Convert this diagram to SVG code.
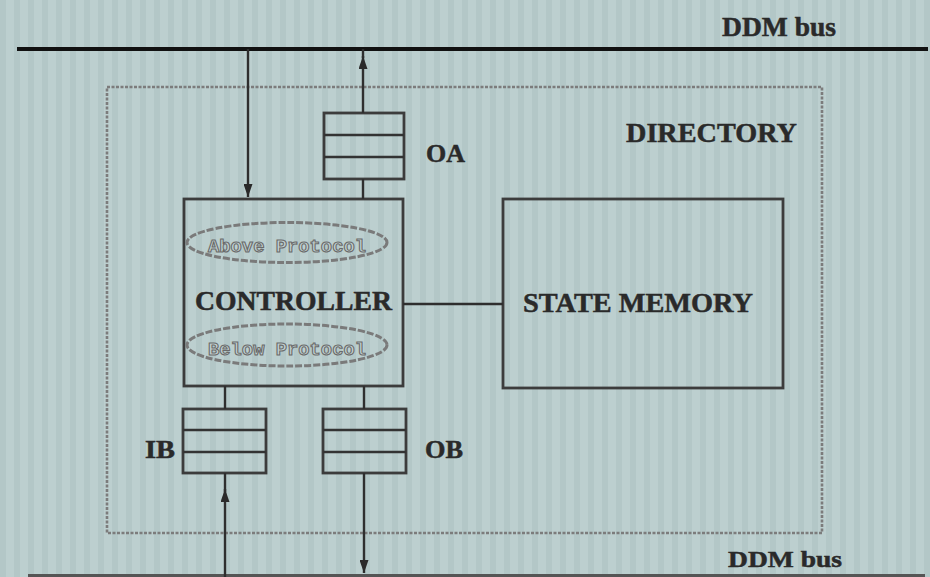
<svg xmlns="http://www.w3.org/2000/svg" width="930" height="577" viewBox="0 0 930 577">
  <defs>
    <pattern id="stripes" width="14" height="14" patternUnits="userSpaceOnUse">
      <rect width="14" height="14" fill="#bccfcf"/>
      <rect x="0" width="6" height="14" fill="#b3c7c7"/>
    </pattern>
    <marker id="arrowBig" viewBox="0 0 10 10" refX="10" refY="5" markerWidth="13" markerHeight="9" markerUnits="userSpaceOnUse" orient="auto" preserveAspectRatio="none">
      <path d="M0,0 L10,5 L0,10 Z" fill="#2a2a2a"/>
    </marker>
  </defs>
  <style>
    .box { fill: none; stroke: #3c3c3c; stroke-width: 2.8; }
    .slot { stroke: #333; stroke-width: 2.6; }
    .lbl { font-family: "Liberation Serif", "Times New Roman", serif; font-weight: bold; fill: #2a2a2a; stroke: #2a2a2a; stroke-width: 0.5; }
    .conn { fill: none; stroke: #2e2e2e; stroke-width: 2.4; }
    .proto { fill: none; stroke: #7a7a7a; stroke-width: 3; stroke-dasharray: 7 2; }
    .ptxt { font-family: "Liberation Mono", "Courier New", monospace; font-weight: bold; fill: #c2d2d2; stroke: #6a6a6a; stroke-width: 1.1; }
  </style>

  <rect width="930" height="577" fill="url(#stripes)"/>

  <!-- buses -->
  <g id="bus-top">
    <line x1="17" y1="49" x2="928" y2="49" stroke="#111" stroke-width="4"/>
    <text class="lbl" x="722" y="36" font-size="27" textLength="114" lengthAdjust="spacingAndGlyphs">DDM bus</text>
  </g>
  <g id="bus-bottom">
    <line x1="28" y1="575.5" x2="925" y2="575.5" stroke="#555" stroke-width="3"/>
    <text class="lbl" x="728" y="567" font-size="24" textLength="114" lengthAdjust="spacingAndGlyphs">DDM bus</text>
  </g>

  <!-- directory -->
  <g id="directory">
    <rect x="107" y="87" width="715" height="446" fill="none" stroke="#7c7c7c" stroke-width="2.6" stroke-dasharray="3 1.5"/>
    <text class="lbl" x="626" y="142" font-size="28" textLength="171" lengthAdjust="spacingAndGlyphs">DIRECTORY</text>
  </g>

  <!-- OA -->
  <g id="oa">
    <rect class="box" x="324" y="113" width="80" height="66"/>
    <line class="slot" x1="324" y1="135" x2="404" y2="135"/>
    <line class="slot" x1="324" y1="157" x2="404" y2="157"/>
    <text class="lbl" x="426" y="162" font-size="25" textLength="39" lengthAdjust="spacingAndGlyphs">OA</text>
  </g>

  <!-- controller -->
  <g id="controller">
    <rect class="box" x="184" y="199" width="219" height="187"/>
    <ellipse class="proto" cx="287" cy="242.5" rx="100" ry="20"/>
    <text class="ptxt" x="287" y="252" font-size="19" text-anchor="middle" textLength="158" lengthAdjust="spacingAndGlyphs">Above Protocol</text>
    <text class="lbl" x="195" y="310" font-size="27" textLength="197" lengthAdjust="spacingAndGlyphs">CONTROLLER</text>
    <ellipse class="proto" cx="287" cy="345" rx="100" ry="21"/>
    <text class="ptxt" x="287" y="355" font-size="19" text-anchor="middle" textLength="158" lengthAdjust="spacingAndGlyphs">Below Protocol</text>
  </g>

  <!-- state memory -->
  <g id="state-memory">
    <rect class="box" x="503" y="199" width="280" height="189"/>
    <text class="lbl" x="523" y="312" font-size="28" textLength="230" lengthAdjust="spacingAndGlyphs">STATE MEMORY</text>
  </g>

  <!-- IB -->
  <g id="ib">
    <rect class="box" x="183" y="409" width="83" height="64"/>
    <line class="slot" x1="183" y1="430" x2="266" y2="430"/>
    <line class="slot" x1="183" y1="452" x2="266" y2="452"/>
    <text class="lbl" x="145" y="458" font-size="25" textLength="30" lengthAdjust="spacingAndGlyphs">IB</text>
  </g>

  <!-- OB -->
  <g id="ob">
    <rect class="box" x="323" y="409" width="83" height="64"/>
    <line class="slot" x1="323" y1="430" x2="406" y2="430"/>
    <line class="slot" x1="323" y1="452" x2="406" y2="452"/>
    <text class="lbl" x="425" y="458" font-size="25" textLength="38" lengthAdjust="spacingAndGlyphs">OB</text>
  </g>

  <!-- connectors -->
  <g id="connectors">
    <path class="conn" d="M248,49 V197" marker-end="url(#arrowBig)"/>
    <path class="conn" d="M363,49 V58"/>
    <path class="conn" d="M363,113 V56" marker-end="url(#arrowBig)"/>
    <path class="conn" d="M363,179 V199"/>
    <path class="conn" d="M403,304 H503" stroke-width="3.2"/>
    <path class="conn" d="M225,386 V409"/>
    <path class="conn" d="M364,386 V409"/>
    <path class="conn" d="M225,577 V489" marker-end="url(#arrowBig)"/>
    <path class="conn" d="M225,492 V473"/>
    <path class="conn" d="M364,473 V573" marker-end="url(#arrowBig)"/>
  </g>
</svg>
